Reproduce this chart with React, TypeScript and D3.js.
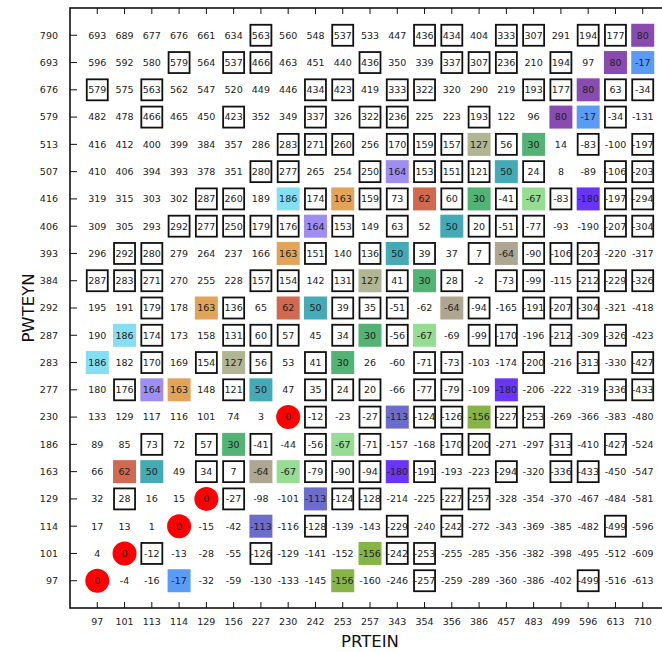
import * as d3 from "d3";

// column categories (PRTEIN) and row categories (PWTEYN, top to bottom)
const COLS = [97, 101, 113, 114, 129, 156, 227, 230, 242, 253, 257, 343, 354, 356, 386, 457, 483, 499, 596, 613, 710];
const ROWS = [790, 693, 676, 579, 513, 507, 416, 406, 393, 384, 292, 287, 283, 277, 230, 186, 163, 129, 114, 101, 97];

// cell values as printed, row by row from the top
const VALUES: number[][] = [
  [693, 689, 677, 676, 661, 634, 563, 560, 548, 537, 533, 447, 436, 434, 404, 333, 307, 291, 194, 177, 80],
  [596, 592, 580, 579, 564, 537, 466, 463, 451, 440, 436, 350, 339, 337, 307, 236, 210, 194, 97, 80, -17],
  [579, 575, 563, 562, 547, 520, 449, 446, 434, 423, 419, 333, 322, 320, 290, 219, 193, 177, 80, 63, -34],
  [482, 478, 466, 465, 450, 423, 352, 349, 337, 326, 322, 236, 225, 223, 193, 122, 96, 80, -17, -34, -131],
  [416, 412, 400, 399, 384, 357, 286, 283, 271, 260, 256, 170, 159, 157, 127, 56, 30, 14, -83, -100, -197],
  [410, 406, 394, 393, 378, 351, 280, 277, 265, 254, 250, 164, 153, 151, 121, 50, 24, 8, -89, -106, -203],
  [319, 315, 303, 302, 287, 260, 189, 186, 174, 163, 159, 73, 62, 60, 30, -41, -67, -83, -180, -197, -294],
  [309, 305, 293, 292, 277, 250, 179, 176, 164, 153, 149, 63, 52, 50, 20, -51, -77, -93, -190, -207, -304],
  [296, 292, 280, 279, 264, 237, 166, 163, 151, 140, 136, 50, 39, 37, 7, -64, -90, -106, -203, -220, -317],
  [287, 283, 271, 270, 255, 228, 157, 154, 142, 131, 127, 41, 30, 28, -2, -73, -99, -115, -212, -229, -326],
  [195, 191, 179, 178, 163, 136, 65, 62, 50, 39, 35, -51, -62, -64, -94, -165, -191, -207, -304, -321, -418],
  [190, 186, 174, 173, 158, 131, 60, 57, 45, 34, 30, -56, -67, -69, -99, -170, -196, -212, -309, -326, -423],
  [186, 182, 170, 169, 154, 127, 56, 53, 41, 30, 26, -60, -71, -73, -103, -174, -200, -216, -313, -330, -427],
  [180, 176, 164, 163, 148, 121, 50, 47, 35, 24, 20, -66, -77, -79, -109, -180, -206, -222, -319, -336, -433],
  [133, 129, 117, 116, 101, 74, 3, 0, -12, -23, -27, -113, -124, -126, -156, -227, -253, -269, -366, -383, -480],
  [89, 85, 73, 72, 57, 30, -41, -44, -56, -67, -71, -157, -168, -170, -200, -271, -297, -313, -410, -427, -524],
  [66, 62, 50, 49, 34, 7, -64, -67, -79, -90, -94, -180, -191, -193, -223, -294, -320, -336, -433, -450, -547],
  [32, 28, 16, 15, 0, -27, -98, -101, -113, -124, -128, -214, -225, -227, -257, -328, -354, -370, -467, -484, -581],
  [17, 13, 1, 0, -15, -42, -113, -116, -128, -139, -143, -229, -240, -242, -272, -343, -369, -385, -482, -499, -596],
  [4, 0, -12, -13, -28, -55, -126, -129, -141, -152, -156, -242, -253, -255, -285, -356, -382, -398, -495, -512, -609],
  [0, -4, -16, -17, -32, -59, -130, -133, -145, -156, -160, -246, -257, -259, -289, -360, -386, -402, -499, -516, -613],
];

// x = cell drawn with an outline box
const BOXED = [
  "......x..x..xx.xx.xx.",
  "...x.xx...x..xxx.x...",
  "x.x.....xx.xx...xx.xx",
  "..x..x..x.xx..x....x.",
  ".......xxx.xxx.x..x.x",
  "......xx..x.xxx.x..xx",
  "....xx..x.xx.x.x.x.xx",
  "...xxxxx.x.x..xxx..xx",
  ".xx.....x.x.x.x.xxx..",
  "xxx...xx.x.x.x.xx.xxx",
  "..x..x...xxx..x.xxx..",
  "..x..xxx.x.x..xx.x.x.",
  "..x.x.x.x...xx..x.x.x",
  ".x...x..xxx.xx.....xx",
  "........x.x.xx.xx....",
  "..x.x.x.x.x..xx..x.x.",
  "....xx..xxx.x..x.xx..",
  ".x...x...xx..xx......",
  "........x..x.x.....x.",
  "..x...x....xx........",
  "............x.....x..",
];

// values highlighted with a coloured square
const HILITE_VALUES = [80, -17, 127, 30, 164, 50, 186, 163, 62, -67, -180, -64, -113, -156];
const HILITE_COLORS = ["#8a4bb0", "#5a9cf5", "#b2b593", "#52b374", "#9f8ef0", "#43aab6", "#84dff2", "#e2a458", "#d0694f", "#96dc92", "#6a35fa", "#afa692", "#6c6ccb", "#86b446"];

const W = 662, H = 652;
const FONT = "'DejaVu Sans', sans-serif";

export default function App() {
  const x = d3.scaleLinear().domain([-1, COLS.length]).range([70, 670]);
  const y = d3.scaleLinear().domain([-1, ROWS.length]).range([8, 608]);
  const color = d3.scaleOrdinal<number, string>().domain(HILITE_VALUES).range(HILITE_COLORS);
  const sq = 23, bx = 21;

  const cells: JSX.Element[] = [];
  VALUES.forEach((row, ri) => {
    row.forEach((v, ci) => {
      const cx = x(ci), cy = y(ri);
      const key = `${ri}-${ci}`;
      if (v === 0) {
        cells.push(<circle key={key + "c"} cx={cx} cy={cy} r={12} fill="#ff0000" />);
      } else if (HILITE_VALUES.includes(v)) {
        cells.push(<rect key={key + "h"} x={cx - sq / 2} y={cy - sq / 2} width={sq} height={sq} fill={color(v)} />);
      }
      if (BOXED[ri][ci] === "x") {
        cells.push(<rect key={key + "b"} x={cx - bx / 2} y={cy - bx / 2} width={bx} height={bx} fill="none" stroke="#111" strokeWidth={1.8} />);
      }
      cells.push(
        <text key={key + "t"} x={cx} y={cy} dy="0.35em" textAnchor="middle" fontSize={9.5} fill="#222">{v}</text>
      );
    });
  });

  return (
    <div style={{ position: "absolute", left: 0, top: 0 }}>
      <svg width={W} height={H} style={{ display: "block", background: "#fff", fontFamily: FONT }}>
        {cells}
        {/* ticks, inward on all sides */}
        {COLS.map((c, i) => (
          <g key={"xt" + c}>
            <line x1={x(i)} x2={x(i)} y1={608} y2={602} stroke="#111" strokeWidth={1} />
            <line x1={x(i)} x2={x(i)} y1={8} y2={14} stroke="#111" strokeWidth={1} />
            <text x={x(i)} y={625} textAnchor="middle" fontSize={9.5} fill="#222">{c}</text>
          </g>
        ))}
        {ROWS.map((r, i) => (
          <g key={"yt" + r}>
            <line x1={70} x2={77} y1={y(i)} y2={y(i)} stroke="#111" strokeWidth={1} />
            <line x1={670} x2={664} y1={y(i)} y2={y(i)} stroke="#111" strokeWidth={1} />
            <text x={58} y={y(i)} dy="0.35em" textAnchor="end" fontSize={9.5} fill="#222">{r}</text>
          </g>
        ))}
        <rect x={70} y={8} width={600} height={600} fill="none" stroke="#111" strokeWidth={1.6} />
        <text x={370} y={647} textAnchor="middle" fontSize={16.5} fill="#111">PRTEIN</text>
        <text transform={`translate(34,308) rotate(-90)`} textAnchor="middle" fontSize={16.5} fill="#111">PWTEYN</text>
      </svg>
    </div>
  );
}
